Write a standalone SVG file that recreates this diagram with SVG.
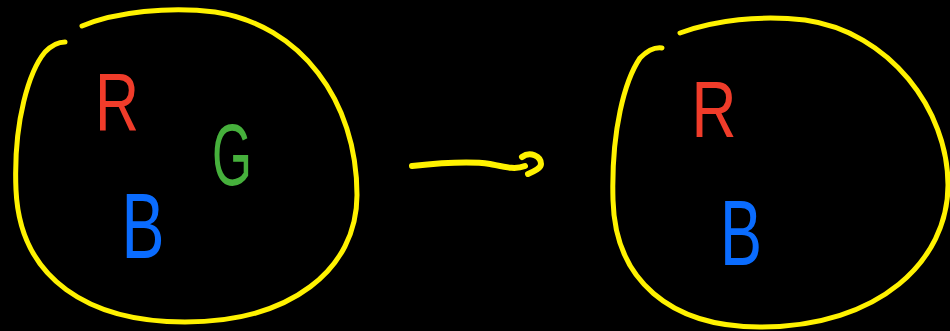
<svg xmlns="http://www.w3.org/2000/svg" width="950" height="331" viewBox="0 0 950 331">
  <style>
    .ink { fill: none; stroke: #fff200; stroke-width: 5; stroke-linecap: round; stroke-linejoin: round; }
    .arrow { fill: none; stroke: #fff200; stroke-width: 6; stroke-linecap: round; stroke-linejoin: round; }
    .letter { font-family: "Liberation Sans", "DejaVu Sans", sans-serif; text-anchor: middle; }
    .r { fill: #f03c2a; }
    .g { fill: #46b03c; }
    .b { fill: #0a6cff; }
  </style>
  <rect width="950" height="331" fill="#000000"/>
  <g id="set-left">
    <path class="ink" d="M82,26 C115,12 170,6 215,12 C300,25 357,100 357,195 C357,270 290,322 185,322 C90,322 20,280 16,190 C13,120 30,70 45,52 C52,45 58,42 65,42"/>
    <text class="letter r" x="117" y="130" font-size="82" textLength="44" lengthAdjust="spacingAndGlyphs">R</text>
    <text class="letter g" x="232" y="185" font-size="88" textLength="40" lengthAdjust="spacingAndGlyphs">G</text>
    <text class="letter b" x="143" y="258" font-size="92" textLength="43" lengthAdjust="spacingAndGlyphs">B</text>
  </g>
  <g id="set-right">
    <path class="ink" d="M680,33 C715,20 760,15 805,20 C890,32 948,110 948,185 C948,260 880,327 760,327 C670,327 615,280 613,200 C611,130 625,80 640,58 C648,50 655,47 662,48"/>
    <text class="letter r" x="714" y="137" font-size="80" textLength="45" lengthAdjust="spacingAndGlyphs">R</text>
    <text class="letter b" x="741" y="265" font-size="92" textLength="42" lengthAdjust="spacingAndGlyphs">B</text>
  </g>
  <g id="connectors">
    <path class="arrow" d="M412,166 C440,163 470,161 490,164 C505,167 515,170 525,166"/>
    <path class="arrow" d="M522,157 C530,151 541,156 541,164 C541,168 535,171 528,174"/>
  </g>
</svg>
